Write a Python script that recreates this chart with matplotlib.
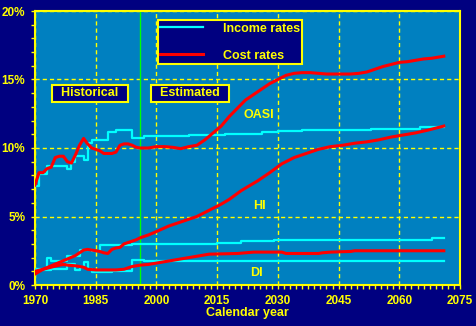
import matplotlib
matplotlib.use("Agg")
import matplotlib.pyplot as plt
import numpy as np

# ---------------- data ----------------
oasi_cost_years = [1970, 1971, 1972, 1973, 1974, 1975, 1976, 1977, 1978, 1979, 1980, 1981, 1982, 1983,
                   1984, 1985, 1986, 1987, 1988, 1989, 1990, 1991, 1992, 1993, 1994, 1995, 1996, 1997,
                   1998, 1999, 2000, 2002, 2004, 2006, 2008, 2010, 2012, 2014, 2016, 2018, 2020, 2022,
                   2024, 2026, 2028, 2030, 2032, 2034, 2036, 2038, 2040, 2042, 2044, 2046, 2048, 2050,
                   2052, 2054, 2056, 2058, 2060, 2062, 2064, 2066, 2068, 2070, 2071]
oasi_cost = [7.3, 8.2, 8.2, 8.5, 8.6, 9.3, 9.4, 9.4, 9.0, 8.9, 9.5, 10.2, 10.7, 10.3,
             10.0, 9.9, 9.8, 9.6, 9.6, 9.6, 9.7, 10.2, 10.3, 10.3, 10.2, 10.05, 10.0, 10.0,
             10.0, 10.05, 10.1, 10.1, 10.05, 9.95, 10.1, 10.2, 10.6, 11.1, 11.6, 12.3, 12.9, 13.5,
             13.9, 14.3, 14.7, 15.0, 15.3, 15.45, 15.5, 15.5, 15.45, 15.4, 15.4, 15.4, 15.4, 15.45,
             15.55, 15.75, 15.95, 16.1, 16.25, 16.3, 16.4, 16.5, 16.55, 16.65, 16.7]

oasi_inc_years = [1970, 1971, 1973, 1978, 1979, 1980, 1982, 1983, 1984, 1988, 1990, 1994, 1997,
                  2008, 2017, 2026, 2030, 2036, 2053, 2065, 2071]
oasi_inc = [7.2, 8.1, 8.7, 8.5, 9.0, 9.4, 9.1, 10.4, 10.6, 11.2, 11.35, 10.7, 10.9,
            10.95, 11.05, 11.2, 11.25, 11.3, 11.4, 11.5, 11.5]

hi_cost_years = [1970, 1972, 1974, 1976, 1978, 1980, 1981, 1982, 1983, 1984, 1985, 1986, 1987, 1988,
                 1989, 1990, 1991, 1992, 1993, 1994, 1995, 1996, 1997, 1998, 2000, 2003, 2006, 2010,
                 2013, 2016, 2018, 2021, 2025, 2028, 2031, 2034, 2037, 2040, 2043, 2046, 2049, 2052,
                 2055, 2058, 2061, 2064, 2067, 2071]
hi_cost = [0.8, 1.15, 1.4, 1.65, 1.9, 2.15, 2.35, 2.55, 2.6, 2.55, 2.5, 2.45, 2.35, 2.3,
           2.6, 2.7, 2.75, 3.0, 3.1, 3.2, 3.3, 3.45, 3.55, 3.65, 3.9, 4.3, 4.6, 5.0,
           5.45, 5.9, 6.25, 6.9, 7.6, 8.2, 8.85, 9.3, 9.6, 9.9, 10.1, 10.2, 10.35, 10.45,
           10.6, 10.8, 10.95, 11.1, 11.3, 11.6]

hi_inc_years = [1970, 1973, 1974, 1978, 1981, 1984, 1986, 1994, 2015, 2021, 2029, 2044, 2068, 2071]
hi_inc = [1.15, 1.95, 1.75, 2.1, 2.55, 2.5, 2.9, 3.0, 3.1, 3.2, 3.25, 3.3, 3.4, 3.4]

di_cost_years = [1970, 1972, 1974, 1976, 1977, 1978, 1980, 1982, 1983, 1985, 1990, 1992, 1993, 1994,
                 1996, 1998, 2000, 2002, 2004, 2007, 2010, 2013, 2020, 2024, 2031, 2032, 2040, 2041,
                 2043, 2048, 2049, 2071]
di_cost = [1.0, 1.15, 1.3, 1.45, 1.5, 1.45, 1.4, 1.3, 1.15, 1.1, 1.1, 1.15, 1.25, 1.35,
           1.45, 1.5, 1.6, 1.7, 1.8, 1.95, 2.1, 2.25, 2.3, 2.4, 2.4, 2.3, 2.3, 2.35,
           2.4, 2.45, 2.5, 2.5]

di_inc_years = [1970, 1974, 1978, 1980, 1981, 1982, 1983, 1984, 1989, 1994, 1997, 2071]
di_inc = [1.1, 1.15, 1.5, 1.1, 1.35, 1.65, 1.2, 0.95, 1.0, 1.8, 1.75, 1.75]

x_ticks = [1970, 1985, 2000, 2015, 2030, 2045, 2060, 2075]
y_ticks = [0, 5, 10, 15, 20]
y_tick_labels = ["0%", "5%", "10%", "15%", "20%"]
estimate_start = 1996

# ---------------- style ----------------
NAVY = "#000080"
FACE = "#0080C0"
YEL = "#FFFF00"
CYAN = "#00FFFF"
RED = "#FF0000"
GREEN = "#00FF00"
FONT = "Liberation Sans"

fig = plt.figure(figsize=(4.76, 3.26), dpi=100, facecolor=NAVY)
ax = fig.add_axes([35 / 476, 41 / 326, 425 / 476, 274 / 326], facecolor=FACE)

ax.set_xlim(1970, 2075)
ax.set_ylim(0, 20)
ax.set_xticks(x_ticks)
ax.set_xticks(np.arange(1970, 2075.1, 1.5), minor=True)
ax.set_yticks(y_ticks)
ax.set_yticklabels(y_tick_labels)
ax.set_yticks(np.arange(0, 20.1, 1), minor=True)

for s in ax.spines.values():
    s.set_color(YEL)
    s.set_linewidth(1.5)

ax.tick_params(which="both", direction="out", colors=YEL, width=1)
ax.tick_params(which="major", length=3)
ax.tick_params(which="minor", length=3)
ax.tick_params(axis="x", pad=4)
ax.tick_params(axis="y", pad=4)
for lab in ax.get_xticklabels() + ax.get_yticklabels():
    lab.set_fontfamily(FONT)
    lab.set_fontweight("bold")
    lab.set_fontsize(8.5)
    lab.set_color(YEL)

ax.grid(True, which="major", color=YEL, linestyle=(0, (3, 2.2)), linewidth=1, zorder=1)
ax.set_axisbelow(True)

ax.axvline(estimate_start, color=GREEN, linewidth=1, zorder=2)

# lines
h_inc, = ax.plot(oasi_inc_years, oasi_inc, drawstyle="steps-post", color=CYAN, lw=1.6, zorder=3,
                 label="Income rates")
ax.plot(hi_inc_years, hi_inc, drawstyle="steps-post", color=CYAN, lw=1.6, zorder=3)
ax.plot(di_inc_years, di_inc, drawstyle="steps-post", color=CYAN, lw=1.6, zorder=3)
h_cost, = ax.plot(oasi_cost_years, oasi_cost, color=RED, lw=2.2, zorder=4, label="Cost rates")
ax.plot(hi_cost_years, hi_cost, color=RED, lw=2.2, zorder=4)
ax.plot(di_cost_years, di_cost, color=RED, lw=2.2, zorder=4)

ax.set_xlabel("Calendar year", color=YEL, fontfamily=FONT, fontweight="bold", fontsize=9, labelpad=0)

tkw = dict(color=YEL, fontfamily=FONT, fontweight="bold", fontsize=9, ha="center", va="center", zorder=6)
ax.text(2025.3, 12.4, "OASI", **tkw)
ax.text(2025.4, 5.8, "HI", **tkw)
ax.text(2024.8, 0.9, "DI", **tkw)

bkw = dict(boxstyle="square,pad=0.2", fc=NAVY, ec=YEL, lw=1.5)
ax.text(1983.6, 14.0, "  Historical  ", bbox=bkw, **tkw)
ax.text(2008.3, 14.0, "  Estimated  ", bbox=bkw, **tkw)

leg = ax.legend(handles=[h_inc, h_cost], loc="upper left", bbox_to_anchor=(0.289, 0.967),
                borderaxespad=0, frameon=True, fancybox=False, facecolor=NAVY, edgecolor=YEL,
                framealpha=1, labelspacing=1.2, handlelength=3.4, handletextpad=1.6, borderpad=0.2,
                prop=dict(family=FONT, weight="bold", size=9), labelcolor=YEL)
leg.get_frame().set_linewidth(1.5)
leg.set_zorder(7)

fig.savefig("out.png", dpi=100, facecolor=NAVY)
